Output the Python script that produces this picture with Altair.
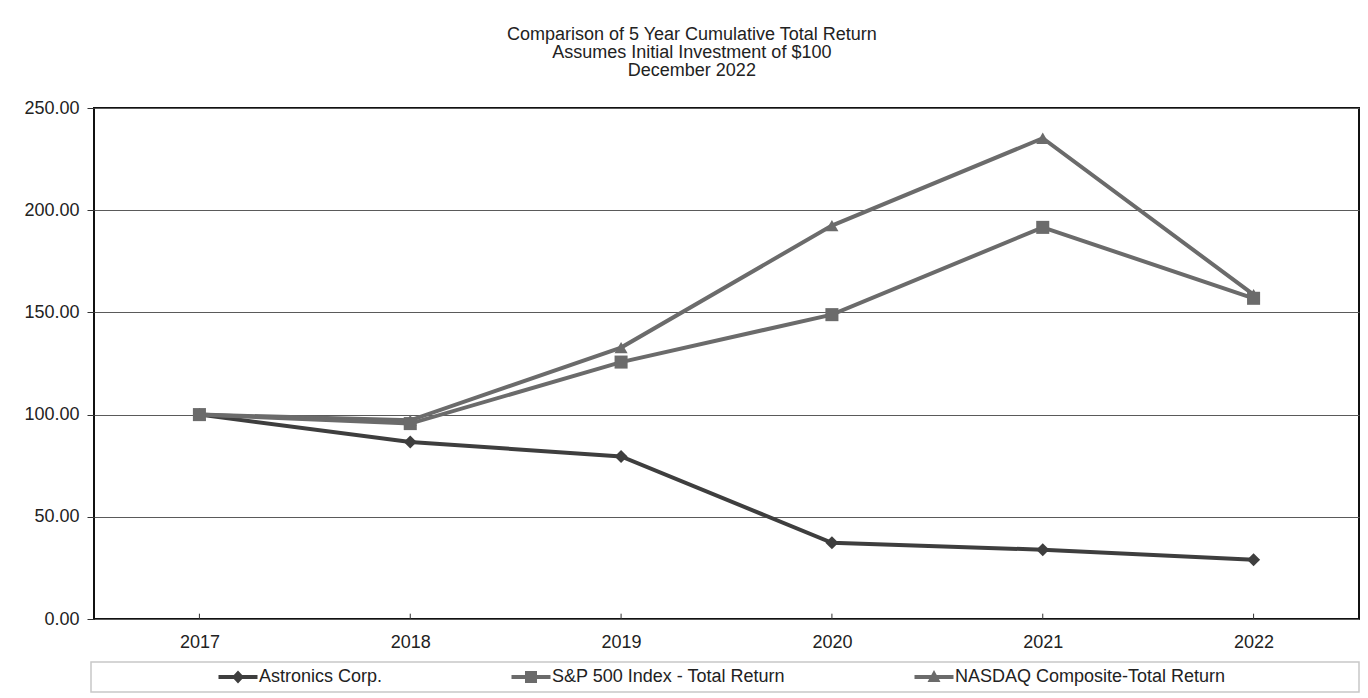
import altair as alt
import pandas as pd

# ---- data ----
years = ["2017", "2018", "2019", "2020", "2021", "2022"]
series = ["Astronics Corp.", "S&P 500 Index - Total Return", "NASDAQ Composite-Total Return"]
astronics = [100.00, 86.6, 79.5, 37.3, 33.9, 29.0]
sp500 = [100.00, 95.6, 125.7, 148.9, 191.6, 156.9]
nasdaq = [100.00, 97.2, 132.8, 192.5, 235.2, 158.7]
y_ticks = [0, 50, 100, 150, 200, 250]
title_lines = [
    "Comparison of 5 Year Cumulative Total Return",
    "Assumes Initial Investment of $100",
    "December 2022",
]

# ---- styles ----
colors = ["#3e3e3e", "#6b6b6b", "#6b6b6b"]
shapes = ["diamond", "square", "triangle-up"]
legend_shapes = [
    "M-1.95,-0.2H1.95V0.2H-1.95Z M0,-0.65L0.6,0L0,0.65L-0.6,0Z",
    "M-1.95,-0.2H1.95V0.2H-1.95Z M-0.6,-0.6H0.6V0.6H-0.6Z",
    "M-1.95,-0.2H1.95V0.2H-1.95Z M0,-0.7L0.65,0.5H-0.65Z",
]
FONT = "Liberation Sans"
TXT = "#222222"
W, H = 1265, 511

# long table, drawn in the order Astronics, NASDAQ, S&P (S&P on top)
rows = []
for name, vals in [(series[0], astronics), (series[2], nasdaq), (series[1], sp500)]:
    for yr, v in zip(years, vals):
        rows.append({"year": yr, "value": v, "series": name})
df = pd.DataFrame(rows)
years_df = pd.DataFrame({"year": years})
legend_df = pd.DataFrame({"series": series})

x_scale = alt.Scale(type="point", domain=years, padding=0.5)
x_enc = alt.X(
    "year:N", scale=x_scale,
    axis=alt.Axis(title=None, labelFontSize=18, labelPadding=14, ticks=False,
                  domain=False, grid=False, labelAngle=0, labelColor=TXT,
                  labelFont=FONT),
)
y_scale = alt.Scale(domain=[0, 250], nice=False, zero=True)
y_enc = alt.Y(
    "value:Q", scale=y_scale,
    axis=alt.Axis(title=None, values=y_ticks, format=".2f", labelFontSize=18,
                  labelPadding=8, tickSize=7, tickColor="#333333", tickWidth=1,
                  domain=False, grid=True, gridColor="#5a5a5a", gridWidth=1,
                  labelColor=TXT, labelFont=FONT),
)
color_enc = alt.Color("series:N", scale=alt.Scale(domain=series, range=colors), legend=None)
shape_enc = alt.Shape("series:N", scale=alt.Scale(domain=series, range=shapes), legend=None)

lines = alt.Chart(df).mark_line(strokeWidth=4).encode(
    x=x_enc, y=y_enc, color=color_enc, detail="series:N"
)
points = alt.Chart(df).mark_point(filled=True, opacity=1, size=170, strokeWidth=0).encode(
    x=x_enc, y=y_enc, color=color_enc, shape=shape_enc
)
xticks = alt.Chart(years_df).mark_rule(color="#333333", strokeWidth=1).encode(
    x=x_enc,
    y=alt.datum(0), y2=alt.datum(2.6),
)

legend_box = alt.Chart(pd.DataFrame({"k": [0]})).mark_rect(
    fill="white", stroke="#c8c8c8", strokeWidth=1.5
).encode(
    x=alt.value(-3), x2=alt.value(W), y=alt.value(H + 43), y2=alt.value(H + 73)
)

legend_layer = alt.Chart(legend_df).transform_filter("false").mark_point(
    filled=True, opacity=1
).encode(
    color=alt.Color("series:N", scale=alt.Scale(domain=series, range=colors),
                    legend=alt.Legend(title=None)),
    shape=alt.Shape("series:N", scale=alt.Scale(domain=series, range=legend_shapes),
                    legend=alt.Legend(
                        title=None, orient="none", direction="horizontal",
                        legendX=134, legendY=H + 48, padding=0,
                        symbolSize=400, symbolStrokeWidth=0, symbolOpacity=1,
                        labelFont=FONT, labelFontSize=18, labelColor=TXT,
                        labelOffset=11, columnPadding=128, labelLimit=0,
                    )),
)

chart = alt.layer(legend_box, lines, points, xticks, legend_layer).resolve_scale(
    color="independent", shape="independent"
).properties(
    width=W, height=H,
    background="white",
    title=alt.TitleParams(title_lines, font=FONT, fontSize=18, fontWeight="normal",
                          color=TXT, lineHeight=18, anchor="middle", frame="bounds",
                          offset=19),
    padding={"left": 23, "top": 26, "right": 5, "bottom": 5},
).configure_view(
    stroke="#111111", strokeWidth=2
)

chart.save("out.html", embed_options={"renderer": "svg", "actions": False})
